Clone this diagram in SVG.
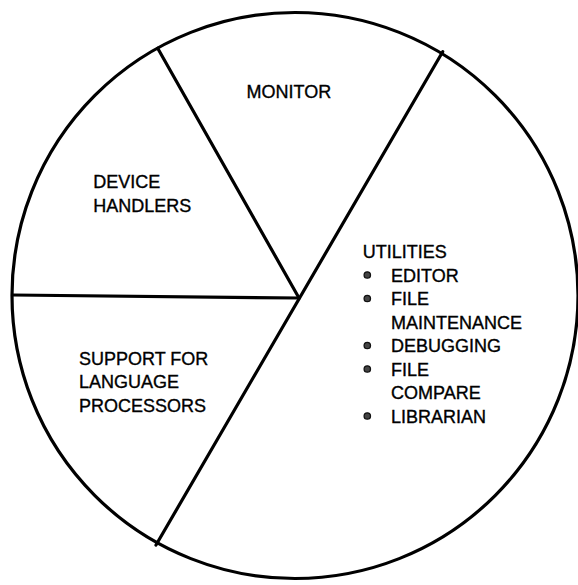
<svg xmlns="http://www.w3.org/2000/svg" width="578" height="585" viewBox="0 0 578 585">
<style>
  .ring { fill: none; stroke: #000; stroke-width: 3.2; }
  .div { stroke: #000; stroke-width: 3.2; stroke-linecap: round; fill: none; }
  .lbl { font-family: "Liberation Sans", Arial, Helvetica, sans-serif; font-size: 18px; fill: #000; stroke: #000; stroke-width: 0.35; }
  .dot { fill: #444; stroke: #111; stroke-width: 1.3; }
</style>
<rect x="0" y="0" width="578" height="585" fill="#fff"/>
<g id="pie-outline">
  <circle class="ring" cx="295" cy="295.5" r="283"/>
</g>
<g id="connectors">
  <line class="div" x1="157.7" y1="48.3" x2="299" y2="298"/>
  <line class="div" x1="442.7" y1="51.7" x2="156" y2="545"/>
  <line class="div" x1="12.7" y1="295" x2="299" y2="298"/>
</g>
<g id="monitor">
  <text class="lbl" x="246.5" y="97.5">MONITOR</text>
</g>
<g id="device-handlers">
  <text class="lbl" x="93.3" y="188">DEVICE</text>
  <text class="lbl" x="93.3" y="211.5">HANDLERS</text>
</g>
<g id="language-support">
  <text class="lbl" x="79" y="364.5">SUPPORT FOR</text>
  <text class="lbl" x="79" y="388">LANGUAGE</text>
  <text class="lbl" x="79" y="411.5">PROCESSORS</text>
</g>
<g id="utilities">
  <text class="lbl" x="362.7" y="258">UTILITIES</text>
  <circle class="dot" cx="367.3" cy="275" r="3.2"/>
  <text class="lbl" x="391" y="281.5">EDITOR</text>
  <circle class="dot" cx="367.3" cy="298.5" r="3.2"/>
  <text class="lbl" x="391" y="305">FILE</text>
  <text class="lbl" x="391" y="328.5">MAINTENANCE</text>
  <circle class="dot" cx="367.3" cy="345.5" r="3.2"/>
  <text class="lbl" x="391" y="352">DEBUGGING</text>
  <circle class="dot" cx="367.3" cy="369" r="3.2"/>
  <text class="lbl" x="391" y="375.5">FILE</text>
  <text class="lbl" x="391" y="399">COMPARE</text>
  <circle class="dot" cx="367.3" cy="416" r="3.2"/>
  <text class="lbl" x="391" y="422.5">LIBRARIAN</text>
</g>
</svg>
